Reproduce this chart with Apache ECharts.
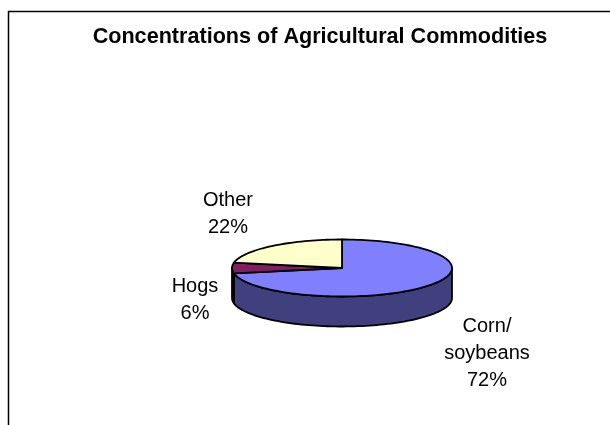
<!DOCTYPE html>
<html><head><meta charset="utf-8">
<script src="https://cdn.jsdelivr.net/npm/echarts@6/dist/echarts.min.js"></script>
<style>html,body{margin:0;padding:0;background:#fff}#c{width:610px;height:425px}</style>
</head><body><div id="c"></div>
<script>
// ---- data ----
const chartTitle = 'Concentrations of Agricultural Commodities';
const categories = ['Corn/\nsoybeans', 'Hogs', 'Other'];
const values = [72, 6, 22];
// ---- styles ----
const topColors = ['#8080FF', '#802060', '#FFFFCC'];
const sideColors = ['#40407F', '#401030', '#7F7F66'];
const labelCenters = [[487, 353], [195, 300], [228, 214]];

const total = values.reduce((a, b) => a + b, 0);
const starts = []; let acc = 0;
values.forEach(v => { starts.push(acc); acc += v; });
const seriesData = values.map((v, i) => ({ name: categories[i], value: [starts[i], v] }));

const CX = 342, CY = 268, RX = 110, RY = 28.5, DEPTH = 30;
function pt(deg, dy) { const r = deg * Math.PI / 180; return [CX + RX * Math.sin(r), CY - RY * Math.cos(r) + (dy || 0)]; }
function arc(a, b, dy) { const pts = []; const n = Math.max(2, Math.ceil(Math.abs(b - a) / 2)); for (let k = 0; k <= n; k++) pts.push(pt(a + (b - a) * k / n, dy)); return pts; }

function renderItem(params, api) {
  const s = api.value(0), v = api.value(1);
  const a = s / total * 360, b = (s + v) / total * 360;
  const i = params.dataIndex;
  const children = [];
  const fa = Math.max(a, 90), fb = Math.min(b, 270);
  if (fb > fa) {
    const top = arc(fa, fb, 0); const bot = arc(fb, fa, DEPTH);
    children.push({ type: 'polygon', shape: { points: top.concat(bot) }, style: { fill: sideColors[i], stroke: '#000', lineWidth: 1.8, lineJoin: 'round' } });
  }
  const face = [[CX, CY]].concat(arc(a, b, 0));
  children.push({ type: 'polygon', shape: { points: face }, style: { fill: topColors[i], stroke: '#000', lineWidth: 1.8, lineJoin: 'round' } });
  const pct = Math.round(v / total * 100) + '%';
  children.push({ type: 'text', style: { text: categories[i] + '\n' + pct, x: labelCenters[i][0], y: labelCenters[i][1], align: 'center', verticalAlign: 'middle', fontSize: 20, fontFamily: 'Liberation Sans', lineHeight: 27, fill: '#000' } });
  return { type: 'group', children };
}

const chart = echarts.init(document.getElementById('c'), null, { renderer: 'canvas' });
chart.setOption({
  animation: false,
  backgroundColor: '#fff',
  title: { text: chartTitle, left: 315, top: 21, textAlign: 'center',
    textStyle: { fontSize: 21.6, fontWeight: 'bold', fontFamily: 'Liberation Sans', color: '#000' } },
  graphic: [{ type: 'rect', shape: { x: 8.5, y: 11.5, width: 700, height: 500 }, style: { fill: 'none', stroke: '#000', lineWidth: 1.5 }, z: -1 }],
  series: [{ type: 'custom', coordinateSystem: 'none', renderItem, data: seriesData }]
});
</script></body></html>
